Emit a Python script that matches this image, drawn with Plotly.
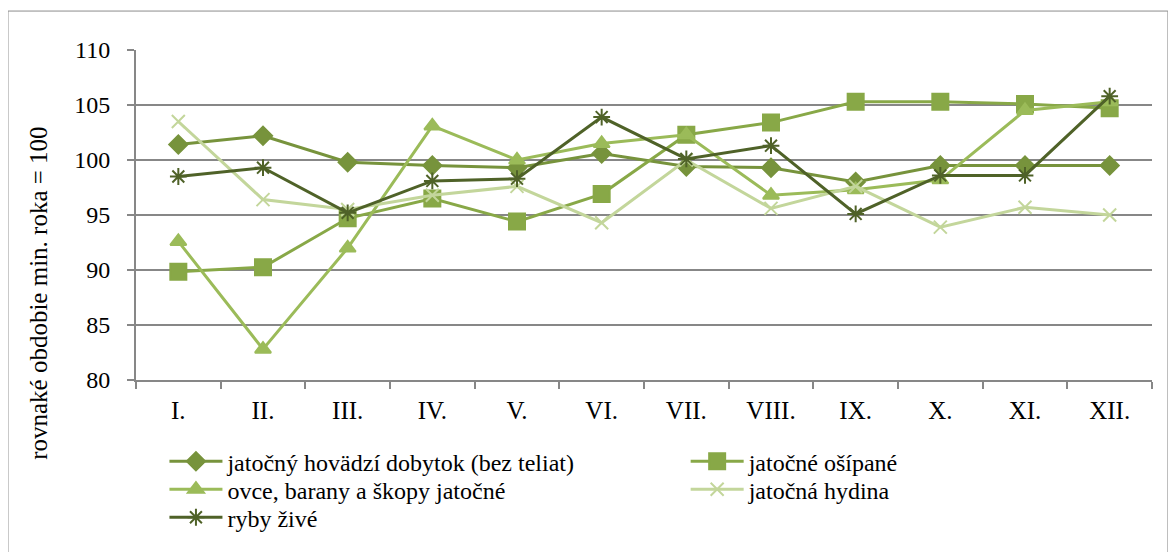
import plotly.graph_objects as go

months = ["I.", "II.", "III.", "IV.", "V.", "VI.", "VII.", "VIII.", "IX.", "X.", "XI.", "XII."]

hovadzi = [101.4, 102.2, 99.8, 99.5, 99.3, 100.6, 99.4, 99.3, 98.0, 99.5, 99.5, 99.5]
osipane = [89.85, 90.25, 94.7, 96.5, 94.4, 96.9, 102.3, 103.4, 105.3, 105.3, 105.1, 104.7]
ovce = [92.6, 82.8, 92.0, 103.1, 100.0, 101.5, 102.3, 96.8, 97.3, 98.2, 104.5, 105.3]
hydina = [103.5, 96.4, 95.5, 96.8, 97.6, 94.3, 100.0, 95.6, 97.6, 93.9, 95.7, 95.0]
ryby = [98.5, 99.3, 95.2, 98.1, 98.3, 103.9, 100.1, 101.3, 95.1, 98.6, 98.6, 105.8]

# name, values, colour, marker, size
series = [
    ("jatočný hovädzí dobytok (bez teliat)", hovadzi, "#77933C", "diamond", 14),
    ("jatočné ošípané", osipane, "#88A847", "square", 16),
    ("ovce, barany a škopy jatočné", ovce, "#9BBB59", "triangle-up", 14),
    ("jatočná hydina", hydina, "#C3D69B", "x-thin-open", 13),
    ("ryby živé", ryby, "#4F6228", "asterisk-open", 14),
]
# Excel-like legend grid: (column x, row y) for every entry, in paper units
legend_pos = [(0.028, -0.179), (0.541, -0.179), (0.028, -0.264), (0.541, -0.264), (0.028, -0.349)]

serif = "Times New Roman, Liberation Serif, serif"
axis_col = "#878787"

fig = go.Figure()
legends = {}
for i, (name, vals, col, sym, size) in enumerate(series):
    leg = "legend" if i == 0 else f"legend{i + 1}"
    fig.add_trace(go.Scatter(
        x=months, y=vals, name=name, mode="lines+markers", legend=leg,
        line=dict(color=col, width=3),
        marker=dict(symbol=sym, size=size, color=col, line=dict(color=col, width=2)),
    ))
    lx, ly = legend_pos[i]
    legends[leg] = dict(x=lx, y=ly, orientation="v", xanchor="left", yanchor="top",
                        bgcolor="rgba(0,0,0,0)", borderwidth=0, itemwidth=53,
                        font=dict(family=serif, size=24, color="black"))

# outer frame like the Excel chart area
fig.add_shape(type="rect", xref="paper", yref="paper",
              x0=-0.126, x1=1.0157, y0=-0.6, y1=1.118,
              line=dict(color="#8c8c8c", width=1), layer="below")

# y title (sits lower than the plot centre in the original)
fig.add_annotation(text="rovnaké obdobie min. roka = 100", textangle=-90,
                   xref="paper", yref="paper", x=-0.0955, y=0.264,
                   xanchor="center", yanchor="middle", showarrow=False,
                   font=dict(family=serif, size=25, color="black"))

# page body has an 8px margin, so the figure is 8px smaller and margins shifted
fig.update_layout(
    width=1168, height=544,
    margin=dict(l=128, r=24, t=42, b=172, autoexpand=False),
    paper_bgcolor="white", plot_bgcolor="white",
    font=dict(family=serif, size=20, color="black"),
    showlegend=True,
    xaxis=dict(type="category", showgrid=False, showline=True, linecolor=axis_col, linewidth=2,
               ticks="outside", tickson="boundaries", ticklen=7, tickcolor=axis_col, tickwidth=2,
               tickfont=dict(family=serif, size=25), ticklabelstandoff=7, range=[-0.5, 11.5]),
    yaxis=dict(range=[80, 110], dtick=5, showgrid=True, gridcolor=axis_col, gridwidth=2,
               showline=True, linecolor=axis_col, linewidth=2, zeroline=False,
               ticks="outside", ticklen=7, tickcolor=axis_col, tickwidth=2,
               tickfont=dict(family=serif, size=24), ticklabelstandoff=12),
    **legends,
)

fig.write_html("out.html")
